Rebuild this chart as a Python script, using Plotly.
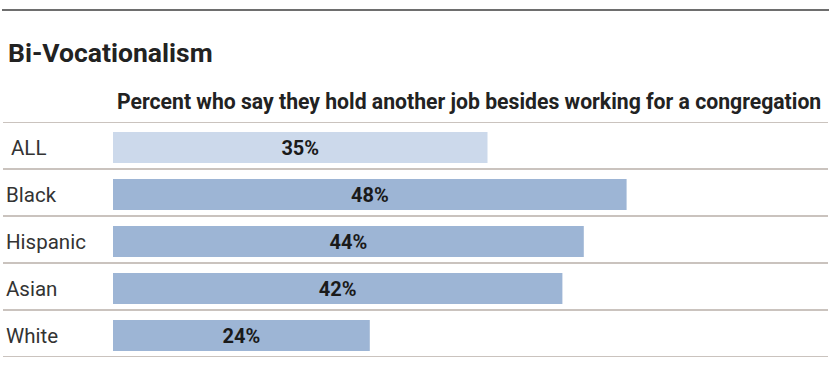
import plotly.graph_objects as go

categories = ["ALL", "Black", "Hispanic", "Asian", "White"]
values = [35, 48, 44, 42, 24]
value_labels = ["35%", "48%", "44%", "42%", "24%"]
bar_colors = ["#ccd9eb", "#9db5d5", "#9db5d5", "#9db5d5", "#9db5d5"]
title_text = "Bi-Vocationalism"
subtitle_text = "Percent who say they hold another job besides working for a congregation"

W, H = 834, 392
ML, MR, MT, MB = 113, 6, 122, 35
PW = W - ML - MR
PH = H - MT - MB

def px_x(x):
    return (x - ML) / PW

def px_y(y):
    return 1 - (y - MT) / PH

fig = go.Figure()
fig.add_trace(go.Bar(
    y=categories, x=values, orientation="h",
    marker=dict(color=bar_colors, line=dict(width=0)),
    width=0.66,
    text=["<b>%s</b>" % t for t in value_labels],
    textposition="inside", insidetextanchor="middle",
    textfont=dict(family="Roboto", size=20, color="#1a1a1a"),
    textangle=0, hoverinfo="skip",
))

shapes = [dict(type="line", xref="paper", yref="paper",
               x0=px_x(2), x1=px_x(829), y0=px_y(10), y1=px_y(10),
               line=dict(color="#6e6e6e", width=2))]
for k in range(len(categories) + 1):
    shapes.append(dict(type="line", xref="paper", yref="y",
                       x0=px_x(3), x1=px_x(828), y0=k - 0.5 - 0.043, y1=k - 0.5 - 0.043,
                       line=dict(color="#cac3be", width=2), layer="below"))

annotations = [
    dict(text="<b>%s</b>" % title_text, xref="paper", yref="paper", x=px_x(6), y=px_y(52),
         xanchor="left", yanchor="middle", showarrow=False,
         font=dict(family="Roboto", size=26.5, color="#222222")),
    dict(text="<b>%s</b>" % subtitle_text, xref="paper", yref="paper", x=px_x(823), y=px_y(101),
         xanchor="right", yanchor="middle", showarrow=False,
         font=dict(family="Roboto", size=21.2, color="#222222")),
]
for i, c in enumerate(categories):
    annotations.append(dict(text=c, xref="paper", yref="y",
                            x=px_x(9 if c == "ALL" else 4), y=i,
                            xanchor="left", yanchor="middle", showarrow=False,
                            font=dict(family="Roboto", size=20.5, color="#333333")))

fig.update_layout(
    width=W, height=H,
    margin=dict(l=ML, r=MR, t=MT, b=MB, pad=0),
    paper_bgcolor="white", plot_bgcolor="white",
    showlegend=False,
    xaxis=dict(range=[0, PW / 10.7], visible=False, fixedrange=True),
    yaxis=dict(range=[4.5 - 0.043, -0.5 - 0.043], visible=False, fixedrange=True,
               categoryorder="array", categoryarray=categories),
    shapes=shapes, annotations=annotations,
    bargap=0.34,
)

fig.write_html("out.html", config={"displayModeBar": False})
